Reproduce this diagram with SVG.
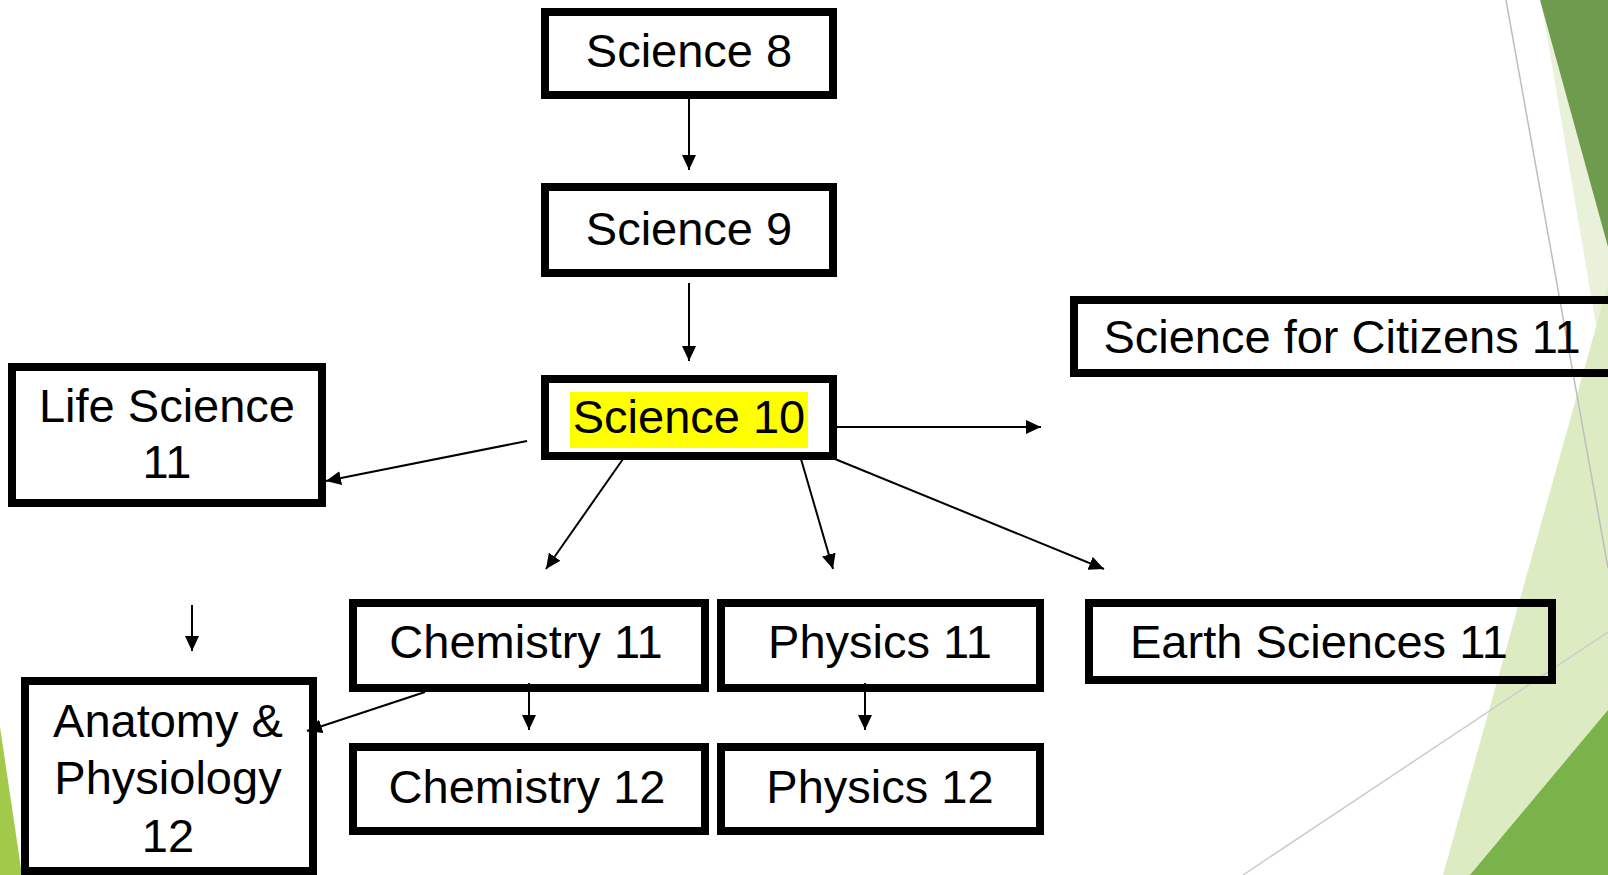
<svg xmlns="http://www.w3.org/2000/svg" width="1608" height="875" viewBox="0 0 1608 875">
<style>
.box{fill:none;stroke:#000;stroke-width:8}
.t{font-family:"Liberation Sans",Arial,sans-serif;font-size:47px;fill:#000;text-anchor:middle}
.c{stroke:#000;stroke-width:2;fill:none;marker-end:url(#ah)}
</style>
<defs>
<marker id="ah" markerUnits="userSpaceOnUse" markerWidth="16" markerHeight="14" refX="15" refY="7" orient="auto">
<path d="M0,0 L15,7 L0,14 z" fill="#000"/>
</marker>
</defs>
<rect x="0" y="0" width="1608" height="875" fill="#fff"/>
<g id="background">
<polygon points="0,727 22,875 0,875" fill="#A3C94B"/>
<polygon points="1541,0 1608,0 1608,330 1596,325" fill="#E9F1DA"/>
<polygon points="1443,875 1608,284 1608,875" fill="#DDEBC3"/>
<polygon points="1540,0 1608,0 1608,247" fill="#6F9B4E"/>
<polygon points="1470,875 1608,710 1608,875" fill="#7BB34B"/>
<line x1="1506" y1="0" x2="1608" y2="568" stroke="#BDBDBD" stroke-width="1.5"/>
<line x1="1243" y1="875" x2="1608" y2="632" stroke="#CCCCCC" stroke-width="1.5"/>
</g>
<g id="connectors">
<line class="c" x1="689" y1="93" x2="689" y2="170"/>
<line class="c" x1="689" y1="283" x2="689" y2="361"/>
<line class="c" x1="837" y1="427" x2="1041" y2="427"/>
<line class="c" x1="527" y1="441" x2="326" y2="481"/>
<line class="c" x1="623" y1="459" x2="546" y2="569"/>
<line class="c" x1="801" y1="459" x2="833" y2="569"/>
<line class="c" x1="835" y1="459" x2="1104" y2="569"/>
<line class="c" x1="192" y1="605" x2="192" y2="651"/>
<line class="c" x1="529" y1="683" x2="529" y2="730"/>
<line class="c" x1="865" y1="683" x2="865" y2="730"/>
<line class="c" x1="425" y1="692" x2="307" y2="731"/>
</g>
<g id="science8">
<rect class="box" x="545" y="12" width="288" height="83"/>
<text class="t" x="689" y="67">Science 8</text>
</g>
<g id="science9">
<rect class="box" x="545" y="187" width="288" height="86"/>
<text class="t" x="689" y="245">Science 9</text>
</g>
<g id="science10">
<rect x="570" y="392" width="238" height="56" fill="#FFFF00"/>
<rect class="box" x="545" y="379" width="288" height="77"/>
<text class="t" x="689" y="433">Science 10</text>
</g>
<g id="lifescience11">
<rect class="box" x="12" y="367" width="310" height="136"/>
<text class="t" x="167" y="422">Life Science</text>
<text class="t" x="167" y="478">11</text>
</g>
<g id="sciencecitizens11">
<rect class="box" x="1074" y="300" width="548" height="73"/>
<text class="t" x="1342" y="353">Science for Citizens 11</text>
</g>
<g id="chemistry11">
<rect class="box" x="353" y="603" width="352" height="85"/>
<text class="t" x="526" y="658">Chemistry 11</text>
</g>
<g id="physics11">
<rect class="box" x="721" y="603" width="319" height="85"/>
<text class="t" x="880" y="658">Physics 11</text>
</g>
<g id="earthsciences11">
<rect class="box" x="1089" y="603" width="463" height="77"/>
<text class="t" x="1319" y="658">Earth Sciences 11</text>
</g>
<g id="chemistry12">
<rect class="box" x="353" y="747" width="352" height="84"/>
<text class="t" x="527" y="803">Chemistry 12</text>
</g>
<g id="physics12">
<rect class="box" x="721" y="747" width="319" height="84"/>
<text class="t" x="880" y="803">Physics 12</text>
</g>
<g id="anatomy12">
<rect class="box" x="25" y="681" width="288" height="190"/>
<text class="t" x="168" y="737">Anatomy &amp;</text>
<text class="t" x="168" y="794">Physiology</text>
<text class="t" x="168" y="852">12</text>
</g>
</svg>
